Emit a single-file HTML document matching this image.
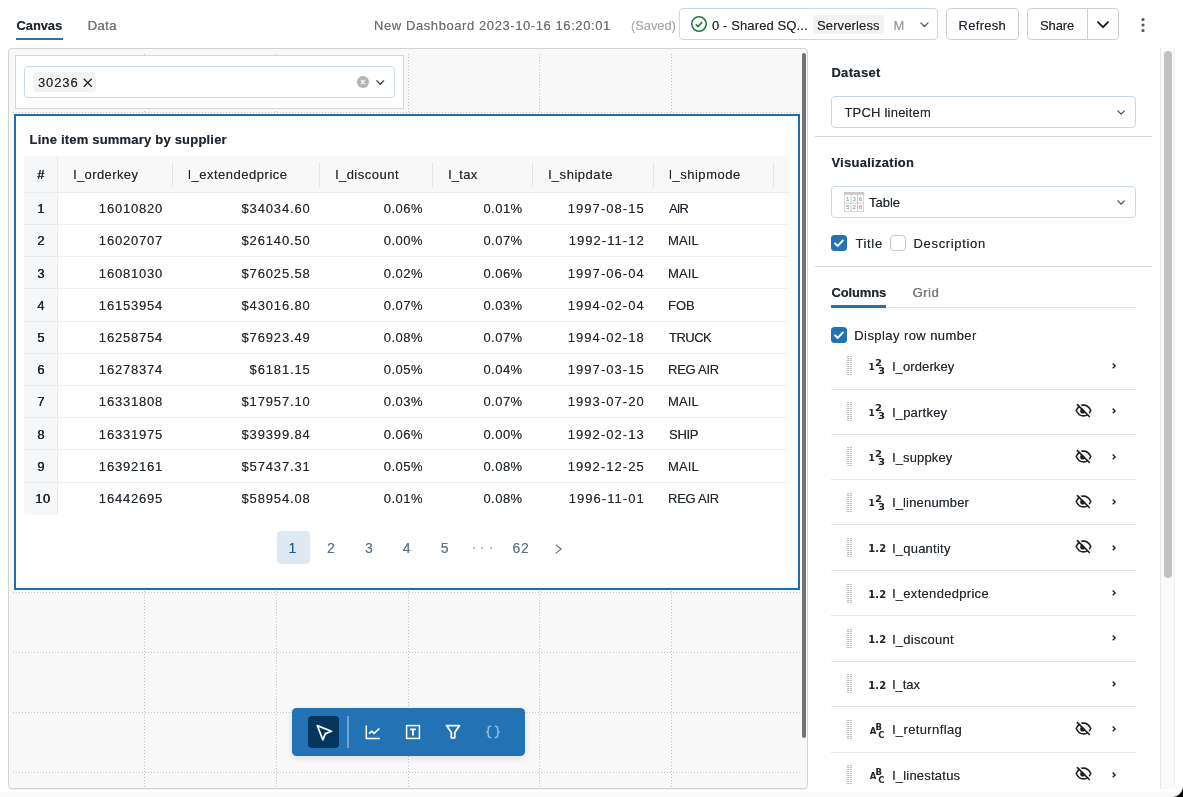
<!DOCTYPE html>
<html lang="en">
<head>
<meta charset="utf-8">
<title>New Dashboard 2023-10-16 16:20:01</title>
<style>
*{box-sizing:border-box;margin:0;padding:0}
html,body{width:1183px;height:797px;overflow:hidden;background:#fff}
body{position:relative;font-family:"Liberation Sans",Arial,sans-serif;font-size:13px;color:#1f272d;line-height:16px}
#w{position:absolute;left:0;top:0;width:1183px;height:797px;will-change:transform}
.a{position:absolute}
.t{position:absolute;white-space:nowrap;line-height:16px;font-size:13px}
svg{position:absolute;overflow:visible}
.btn{position:absolute;border:1px solid #cfcfcf;border-radius:4px;background:#fff}
.sel{position:absolute;border:1px solid #cad9e6;border-radius:4px;background:#fff}
.vl{position:absolute;width:1px;background-image:repeating-linear-gradient(to bottom,#c2c2c2 0 1px,transparent 1px 3px)}
.hl{position:absolute;height:1px;background-image:repeating-linear-gradient(to right,#c2c2c2 0 1px,transparent 1px 3px)}
.rl{position:absolute;height:1px;background:#f0f0f0;left:57px;width:733px}
.hs{position:absolute;width:1px;background:#e4e4e4;top:162px;height:25px}
.dv{position:absolute;height:1px;background:#e6e6e6;left:831px;width:305px}
.dh{position:absolute;width:5.8px;height:19.6px;left:846.7px;background-image:repeating-linear-gradient(to bottom,transparent 0 1.1px,#fff 1.1px 1.96px),repeating-linear-gradient(to right,#bcbcbc 0 0.85px,#fff 0.85px 1.45px)}
.ti{position:absolute;font-family:"DejaVu Sans","Liberation Sans",sans-serif;font-weight:700;font-size:9px;line-height:10px;color:#222;white-space:nowrap}
</style>
</head>
<body>
<div id="w">
<!-- top bar -->
<div class="a" style="left:16px;top:37.5px;width:46.5px;height:2.5px;background:#2272b4"></div>
<div class="sel" style="left:678.5px;top:8.3px;width:259.5px;height:31.5px"></div>
<svg style="left:691.4px;top:16.1px" width="16" height="16" viewBox="0 0 16 16"><circle cx="8" cy="8" r="7.250" fill="none" stroke="#1f7a3c" stroke-width="1.500"/><path d="M4.800 8.300l2.100 2.200 4.300-4.400" fill="none" stroke="#1f7a3c" stroke-width="1.700" stroke-linecap="butt" stroke-linejoin="miter"/></svg>
<div class="a" style="left:813px;top:14.5px;width:71px;height:19.5px;background:#f2f2f2;border-radius:4px"></div>
<svg style="left:919.5px;top:21.5px" width="9" height="6" viewBox="0 0 9 6"><path d="M0.8 0.9l3.6 3.6 3.6-3.6" fill="none" stroke="#555" stroke-width="1.3" stroke-linecap="round" stroke-linejoin="round"/></svg>
<div class="btn" style="left:946px;top:8.3px;width:72.5px;height:31.5px"></div>
<div class="btn" style="left:1027px;top:8.3px;width:91.5px;height:31.5px"></div>
<div class="a" style="left:1087px;top:9px;width:1px;height:30px;background:#cfcfcf"></div>
<svg style="left:1097px;top:21px" width="12" height="8" viewBox="0 0 12 8"><path d="M1 1.2l5 5 5-5" fill="none" stroke="#1a1a1a" stroke-width="1.9" stroke-linecap="round" stroke-linejoin="round"/></svg>
<svg style="left:1140px;top:16px" width="6" height="18" viewBox="0 0 6 18"><circle cx="3" cy="3.5" r="1.6" fill="#555"/><circle cx="3" cy="9" r="1.6" fill="#555"/><circle cx="3" cy="14.5" r="1.6" fill="#555"/></svg>
<!-- canvas -->
<div class="a" style="left:8px;top:48px;width:800px;height:740.6px;background:#f8f8f8;border:1px solid #d2d2d2;border-radius:4px;box-shadow:0 1px 1px rgba(0,0,0,.06)"></div>
<div class="vl" style="left:144px;top:54px;height:734px"></div>
<div class="vl" style="left:276px;top:54px;height:734px"></div>
<div class="vl" style="left:407.5px;top:54px;height:734px"></div>
<div class="vl" style="left:539px;top:54px;height:734px"></div>
<div class="vl" style="left:671px;top:54px;height:734px"></div>
<div class="hl" style="left:13px;top:112px;width:788px"></div>
<div class="hl" style="left:13px;top:592px;width:788px"></div>
<div class="hl" style="left:13px;top:652px;width:788px"></div>
<div class="hl" style="left:13px;top:712px;width:788px"></div>
<div class="hl" style="left:13px;top:772px;width:788px"></div>
<div class="a" style="left:801.8px;top:52.5px;width:4.2px;height:685px;background:#727272;border-radius:2px"></div>
<div class="a" style="left:15px;top:55px;width:389px;height:54px;background:#fff;border:1px solid #d6d6d6"></div>
<div class="sel" style="left:24px;top:66px;width:371px;height:32px"></div>
<div class="a" style="left:33px;top:72px;width:62.5px;height:20px;background:#f2f2f2;border-radius:4px"></div>
<svg style="left:83px;top:77.5px" width="9.5" height="9.5" viewBox="0 0 10 10"><path d="M0.8 0.8l8.4 8.4M9.2 0.8L0.8 9.2" fill="none" stroke="#222" stroke-width="1.35"/></svg>
<svg style="left:357px;top:76.2px" width="12" height="12" viewBox="0 0 12 12"><circle cx="6" cy="6" r="6" fill="#b3b3b3"/><path d="M4.300 4.300l3.400 3.400M7.700 4.300l-3.400 3.400" stroke="#fff" stroke-width="1.300" stroke-linecap="round"/></svg>
<svg style="left:376px;top:80px" width="8.5" height="5.5" viewBox="0 0 9 6"><path d="M0.8 0.9l3.7 3.7 3.7-3.7" fill="none" stroke="#444" stroke-width="1.4" stroke-linecap="round" stroke-linejoin="round"/></svg>
<div class="a" style="left:14px;top:114px;width:786px;height:476px;background:#fff;border:2px solid #1e6db2"></div>
<div class="a" style="left:24px;top:156px;width:766px;height:37px;background:#f8f8f8;border-radius:4px 4px 0 0;border-bottom:1px solid #ededed"></div>
<div class="a" style="left:24px;top:156px;width:33.5px;height:359px;background:#f6f7f8;border-right:1px solid #ebebeb;border-radius:4px 0 0 4px"></div>
<div class="a" style="left:24px;top:192px;width:33px;height:1px;background:#ebebeb"></div>
<div class="hs" style="left:171.8px"></div>
<div class="hs" style="left:319.0px"></div>
<div class="hs" style="left:432.2px"></div>
<div class="hs" style="left:531.9px"></div>
<div class="hs" style="left:653.0px"></div>
<div class="hs" style="left:772.9px"></div>
<div class="rl" style="top:224.00px"></div>
<div class="a" style="left:24.3px;width:33px;height:1px;background:#e8e9ea;top:224.00px"></div>
<div class="rl" style="top:256.20px"></div>
<div class="a" style="left:24.3px;width:33px;height:1px;background:#e8e9ea;top:256.20px"></div>
<div class="rl" style="top:288.40px"></div>
<div class="a" style="left:24.3px;width:33px;height:1px;background:#e8e9ea;top:288.40px"></div>
<div class="rl" style="top:320.60px"></div>
<div class="a" style="left:24.3px;width:33px;height:1px;background:#e8e9ea;top:320.60px"></div>
<div class="rl" style="top:352.80px"></div>
<div class="a" style="left:24.3px;width:33px;height:1px;background:#e8e9ea;top:352.80px"></div>
<div class="rl" style="top:385.00px"></div>
<div class="a" style="left:24.3px;width:33px;height:1px;background:#e8e9ea;top:385.00px"></div>
<div class="rl" style="top:417.20px"></div>
<div class="a" style="left:24.3px;width:33px;height:1px;background:#e8e9ea;top:417.20px"></div>
<div class="rl" style="top:449.40px"></div>
<div class="a" style="left:24.3px;width:33px;height:1px;background:#e8e9ea;top:449.40px"></div>
<div class="rl" style="top:481.60px"></div>
<div class="a" style="left:24.3px;width:33px;height:1px;background:#e8e9ea;top:481.60px"></div>
<div class="a" style="left:277px;top:531px;width:32.5px;height:32.5px;background:#dde8f2;border-radius:4px"></div>
<div class="a" style="left:473.2px;top:547px;width:2px;height:2px;border-radius:50%;background:#a3afba"></div>
<div class="a" style="left:481.4px;top:547px;width:2px;height:2px;border-radius:50%;background:#a3afba"></div>
<div class="a" style="left:489.7px;top:547px;width:2px;height:2px;border-radius:50%;background:#a3afba"></div>
<svg style="left:555.4px;top:543.6px" width="7" height="10" viewBox="0 0 7 10"><path d="M0.6 0.6l5.6 4.4-5.6 4.4" fill="none" stroke="#5f7281" stroke-width="1.15" stroke-linejoin="miter"/></svg>
<div class="a" style="left:291.5px;top:707.8px;width:233px;height:47.8px;background:#2272b4;border-radius:4.5px;box-shadow:0 2px 6px rgba(0,0,0,.12)"></div>
<div class="a" style="left:307.7px;top:715.8px;width:31.8px;height:31.8px;background:#04355d;border-radius:4px"></div>
<div class="a" style="left:347.4px;top:715.8px;width:1.5px;height:31.8px;background:#6ea3d0"></div>
<svg style="left:307.7px;top:715.8px" width="32" height="32" viewBox="0 0 32 32"><path d="M9.3 9.600l14.2 5.700-6.100 2.300-2.600 6.200z" fill="none" stroke="#fff" stroke-width="1.75" stroke-linejoin="round"/></svg>
<svg style="left:364.9px;top:723.5px" width="16" height="16" viewBox="0 0 16 16"><path d="M1.3 1.4v13.1h13.6" fill="none" stroke="#fff" stroke-width="1.5"/><path d="M4 9.600l2.800-2.400 2.300 2.200 5.300-4.900" fill="none" stroke="#fff" stroke-width="1.6" stroke-linejoin="round"/></svg>
<svg style="left:404.7px;top:723.7px" width="16" height="16" viewBox="0 0 16 16"><rect x="1.6" y="1.6" width="12.8" height="12.8" fill="none" stroke="#fff" stroke-width="1.5"/><path d="M5.100 5.300h5.800M8 5.300v6.300" fill="none" stroke="#fff" stroke-width="1.800"/></svg>
<svg style="left:444.8px;top:724px" width="16" height="16" viewBox="0 0 16 16"><path d="M1.500 1.600h13l-4.700 6.800v5.400H6.300V8.400z" fill="none" stroke="#fff" stroke-width="1.750" stroke-linejoin="round"/></svg>
<svg style="left:484.5px;top:724px" width="16" height="16" viewBox="0 0 16 16"><path d="M5.600 2.200c-1.700 0-2.300 0.700-2.300 2v1.900c0 1-0.500 1.600-1.500 1.800 1 0.200 1.500 0.800 1.500 1.800v1.900c0 1.300 0.600 2 2.300 2M10.400 2.200c1.700 0 2.300 0.700 2.300 2v1.900c0 1 0.500 1.600 1.500 1.800-1 0.200-1.500 0.800-1.500 1.800v1.900c0 1.300-0.600 2-2.300 2" fill="none" stroke="#8fbce3" stroke-width="1.550" stroke-linecap="round" stroke-linejoin="round"/></svg>
<!-- right panel -->
<div class="a" style="left:1160.3px;top:48px;width:14.3px;height:740.6px;background:#fafafa;border-left:1px solid #e8e8e8;border-right:1px solid #f0f0f0"></div>
<div class="a" style="left:1163.9px;top:51.3px;width:8px;height:527px;background:#c1c1c1;border-radius:4px"></div>
<div class="sel" style="left:831px;top:96.2px;width:305px;height:31.4px"></div>
<svg style="left:1116.5px;top:110px" width="8.4" height="5.4" viewBox="0 0 9 6"><path d="M0.8 0.9l3.6 3.6 3.6-3.6" fill="none" stroke="#444" stroke-width="1.3" stroke-linecap="round" stroke-linejoin="round"/></svg>
<div class="a" style="left:815px;top:136px;width:337px;height:1px;background:#d8d8d8"></div>
<div class="sel" style="left:831px;top:186.4px;width:305px;height:31.400px"></div>
<svg style="left:1116.5px;top:200px" width="8.4" height="5.4" viewBox="0 0 9 6"><path d="M0.8 0.9l3.6 3.6 3.6-3.6" fill="none" stroke="#444" stroke-width="1.3" stroke-linecap="round" stroke-linejoin="round"/></svg>
<svg style="left:844px;top:192.1px" width="20" height="19.7" viewBox="0 0 20 19.7"><rect x="0" y="0" width="20" height="19.7" fill="#c9c9c9"/><g fill="#fff"><rect x="0.7" y="2.800" width="5.900" height="7.900"/><rect x="7.500" y="2.800" width="5.500" height="7.900"/><rect x="13.900" y="2.800" width="5.400" height="7.900"/><rect x="0.7" y="11.500" width="5.900" height="7.500"/><rect x="7.500" y="11.500" width="5.500" height="7.500"/><rect x="13.900" y="11.500" width="5.400" height="7.500"/></g><g font-family="Liberation Sans,sans-serif" font-size="6.200" fill="#7d8894" text-anchor="middle"><text x="3.700" y="9.100">1</text><text x="10.250" y="9.100">3</text><text x="16.600" y="9.100">6</text><text x="3.700" y="16.700">5</text><text x="10.250" y="16.700">2</text><text x="16.600" y="16.700" fill="#f0664a">8</text></g></svg>
<svg style="left:831px;top:235.2px" width="16" height="16" viewBox="0 0 16 16"><rect width="16" height="16" rx="3.5" fill="#2272b4"/><path d="M4 8.300l2.700 2.700 5.200-5.600" fill="none" stroke="#fff" stroke-width="1.9" stroke-linecap="round" stroke-linejoin="round"/></svg>
<div class="a" style="left:890.3px;top:235.2px;width:16px;height:16px;border:1px solid #c9c9c9;border-radius:4px;background:#fff"></div>
<div class="a" style="left:815px;top:266px;width:337px;height:1px;background:#d8d8d8"></div>
<div class="a" style="left:831px;top:307px;width:305px;height:1px;background:#e4e4e4"></div>
<div class="a" style="left:831px;top:305px;width:55.3px;height:2.800px;background:#2272b4"></div>
<svg style="left:830.8px;top:326.7px" width="16" height="16" viewBox="0 0 16 16"><rect width="16" height="16" rx="3.5" fill="#2272b4"/><path d="M4 8.300l2.700 2.700 5.200-5.600" fill="none" stroke="#fff" stroke-width="1.9" stroke-linecap="round" stroke-linejoin="round"/></svg>
<div class="dh" style="top:356.40px"></div>
<div class="ti" style="left:868.6px;top:362.20px">1</div><div class="ti" style="left:874.5px;top:357.80px;transform:scaleX(1.12);transform-origin:0 0">2</div><div class="ti" style="left:878.2px;top:365.90px;transform:scaleX(1.12);transform-origin:0 0">3</div>
<svg style="left:1112.20px;top:362.90px" width="4" height="6" viewBox="0 0 4 6"><path d="M0.700 0.600l2.400 2.300-2.400 2.300" fill="none" stroke="#222" stroke-width="1.4" stroke-linecap="butt" stroke-linejoin="miter"/></svg>
<div class="dv" style="top:389px"></div>
<div class="dh" style="top:401.82px"></div>
<div class="ti" style="left:868.6px;top:407.62px">1</div><div class="ti" style="left:874.5px;top:403.22px;transform:scaleX(1.12);transform-origin:0 0">2</div><div class="ti" style="left:878.2px;top:411.32px;transform:scaleX(1.12);transform-origin:0 0">3</div>
<svg style="left:1074.60px;top:404.12px" width="17" height="14" viewBox="0 0 17 14"><path d="M1.200 6.500C3 2.700 5.600 1.100 8.500 1.100s5.500 1.600 7.300 5.400c-1.800 3.800-4.400 5.400-7.300 5.400S3 10.300 1.200 6.500z" fill="none" stroke="#1f1f1f" stroke-width="1.6" stroke-linejoin="round"/><circle cx="7.800" cy="6.900" r="2.600" fill="#1f1f1f"/><path d="M3.600 -0.300l11.800 11.800" stroke="#fff" stroke-width="1.500"/><path d="M2.400 0.600l11.900 11.900" stroke="#1f1f1f" stroke-width="1.600" stroke-linecap="round"/></svg>
<svg style="left:1112.20px;top:408.32px" width="4" height="6" viewBox="0 0 4 6"><path d="M0.700 0.600l2.400 2.300-2.400 2.300" fill="none" stroke="#222" stroke-width="1.4" stroke-linecap="butt" stroke-linejoin="miter"/></svg>
<div class="dv" style="top:434px"></div>
<div class="dh" style="top:447.24px"></div>
<div class="ti" style="left:868.6px;top:453.04px">1</div><div class="ti" style="left:874.5px;top:448.64px;transform:scaleX(1.12);transform-origin:0 0">2</div><div class="ti" style="left:878.2px;top:456.74px;transform:scaleX(1.12);transform-origin:0 0">3</div>
<svg style="left:1074.60px;top:449.54px" width="17" height="14" viewBox="0 0 17 14"><path d="M1.200 6.500C3 2.700 5.600 1.100 8.500 1.100s5.500 1.600 7.300 5.400c-1.800 3.800-4.400 5.400-7.300 5.400S3 10.300 1.200 6.500z" fill="none" stroke="#1f1f1f" stroke-width="1.6" stroke-linejoin="round"/><circle cx="7.800" cy="6.900" r="2.600" fill="#1f1f1f"/><path d="M3.600 -0.300l11.800 11.800" stroke="#fff" stroke-width="1.500"/><path d="M2.400 0.600l11.900 11.900" stroke="#1f1f1f" stroke-width="1.600" stroke-linecap="round"/></svg>
<svg style="left:1112.20px;top:453.74px" width="4" height="6" viewBox="0 0 4 6"><path d="M0.700 0.600l2.400 2.300-2.400 2.300" fill="none" stroke="#222" stroke-width="1.4" stroke-linecap="butt" stroke-linejoin="miter"/></svg>
<div class="dv" style="top:479px"></div>
<div class="dh" style="top:492.66px"></div>
<div class="ti" style="left:868.6px;top:498.46px">1</div><div class="ti" style="left:874.5px;top:494.06px;transform:scaleX(1.12);transform-origin:0 0">2</div><div class="ti" style="left:878.2px;top:502.16px;transform:scaleX(1.12);transform-origin:0 0">3</div>
<svg style="left:1074.60px;top:494.96px" width="17" height="14" viewBox="0 0 17 14"><path d="M1.200 6.500C3 2.700 5.600 1.100 8.500 1.100s5.500 1.600 7.300 5.400c-1.800 3.800-4.400 5.400-7.300 5.400S3 10.300 1.200 6.500z" fill="none" stroke="#1f1f1f" stroke-width="1.6" stroke-linejoin="round"/><circle cx="7.800" cy="6.900" r="2.600" fill="#1f1f1f"/><path d="M3.600 -0.300l11.800 11.800" stroke="#fff" stroke-width="1.500"/><path d="M2.400 0.600l11.900 11.900" stroke="#1f1f1f" stroke-width="1.600" stroke-linecap="round"/></svg>
<svg style="left:1112.20px;top:499.16px" width="4" height="6" viewBox="0 0 4 6"><path d="M0.700 0.600l2.400 2.300-2.400 2.300" fill="none" stroke="#222" stroke-width="1.4" stroke-linecap="butt" stroke-linejoin="miter"/></svg>
<div class="dv" style="top:524px"></div>
<div class="dh" style="top:538.08px"></div>
<div class="ti" style="left:868.3px;top:544.48px;font-size:10px;letter-spacing:0.1px">1.2</div>
<svg style="left:1074.60px;top:540.38px" width="17" height="14" viewBox="0 0 17 14"><path d="M1.200 6.500C3 2.700 5.600 1.100 8.500 1.100s5.500 1.600 7.300 5.400c-1.800 3.800-4.400 5.400-7.300 5.400S3 10.300 1.200 6.500z" fill="none" stroke="#1f1f1f" stroke-width="1.6" stroke-linejoin="round"/><circle cx="7.800" cy="6.900" r="2.600" fill="#1f1f1f"/><path d="M3.600 -0.300l11.800 11.800" stroke="#fff" stroke-width="1.500"/><path d="M2.400 0.600l11.900 11.900" stroke="#1f1f1f" stroke-width="1.600" stroke-linecap="round"/></svg>
<svg style="left:1112.20px;top:544.58px" width="4" height="6" viewBox="0 0 4 6"><path d="M0.700 0.600l2.400 2.300-2.400 2.300" fill="none" stroke="#222" stroke-width="1.4" stroke-linecap="butt" stroke-linejoin="miter"/></svg>
<div class="dv" style="top:570px"></div>
<div class="dh" style="top:583.50px"></div>
<div class="ti" style="left:868.3px;top:589.90px;font-size:10px;letter-spacing:0.1px">1.2</div>
<svg style="left:1112.20px;top:590.00px" width="4" height="6" viewBox="0 0 4 6"><path d="M0.700 0.600l2.400 2.300-2.400 2.300" fill="none" stroke="#222" stroke-width="1.4" stroke-linecap="butt" stroke-linejoin="miter"/></svg>
<div class="dv" style="top:615px"></div>
<div class="dh" style="top:628.92px"></div>
<div class="ti" style="left:868.3px;top:635.32px;font-size:10px;letter-spacing:0.1px">1.2</div>
<svg style="left:1112.20px;top:635.42px" width="4" height="6" viewBox="0 0 4 6"><path d="M0.700 0.600l2.400 2.300-2.400 2.300" fill="none" stroke="#222" stroke-width="1.4" stroke-linecap="butt" stroke-linejoin="miter"/></svg>
<div class="dv" style="top:661px"></div>
<div class="dh" style="top:674.34px"></div>
<div class="ti" style="left:868.3px;top:680.74px;font-size:10px;letter-spacing:0.1px">1.2</div>
<svg style="left:1112.20px;top:680.84px" width="4" height="6" viewBox="0 0 4 6"><path d="M0.700 0.600l2.400 2.300-2.400 2.300" fill="none" stroke="#222" stroke-width="1.4" stroke-linecap="butt" stroke-linejoin="miter"/></svg>
<div class="dv" style="top:706px"></div>
<div class="dh" style="top:719.76px"></div>
<div class="ti" style="left:869.8px;top:725.76px;font-size:8.5px">A</div><div class="ti" style="left:875.6px;top:721.76px;font-size:8.5px">B</div><div class="ti" style="left:878.3px;top:729.66px;font-size:8.5px">C</div>
<svg style="left:1074.60px;top:722.06px" width="17" height="14" viewBox="0 0 17 14"><path d="M1.200 6.500C3 2.700 5.600 1.100 8.500 1.100s5.500 1.600 7.300 5.400c-1.800 3.800-4.400 5.400-7.300 5.400S3 10.300 1.200 6.500z" fill="none" stroke="#1f1f1f" stroke-width="1.6" stroke-linejoin="round"/><circle cx="7.800" cy="6.900" r="2.600" fill="#1f1f1f"/><path d="M3.600 -0.300l11.800 11.800" stroke="#fff" stroke-width="1.500"/><path d="M2.400 0.600l11.900 11.900" stroke="#1f1f1f" stroke-width="1.600" stroke-linecap="round"/></svg>
<svg style="left:1112.20px;top:726.26px" width="4" height="6" viewBox="0 0 4 6"><path d="M0.700 0.600l2.400 2.300-2.400 2.300" fill="none" stroke="#222" stroke-width="1.4" stroke-linecap="butt" stroke-linejoin="miter"/></svg>
<div class="dv" style="top:752px"></div>
<div class="dh" style="top:765.18px"></div>
<div class="ti" style="left:869.8px;top:771.18px;font-size:8.5px">A</div><div class="ti" style="left:875.6px;top:767.18px;font-size:8.5px">B</div><div class="ti" style="left:878.3px;top:775.08px;font-size:8.5px">C</div>
<svg style="left:1074.60px;top:767.48px" width="17" height="14" viewBox="0 0 17 14"><path d="M1.200 6.500C3 2.700 5.600 1.100 8.500 1.100s5.500 1.600 7.300 5.400c-1.800 3.800-4.400 5.400-7.300 5.400S3 10.300 1.200 6.500z" fill="none" stroke="#1f1f1f" stroke-width="1.6" stroke-linejoin="round"/><circle cx="7.800" cy="6.900" r="2.600" fill="#1f1f1f"/><path d="M3.600 -0.300l11.800 11.800" stroke="#fff" stroke-width="1.500"/><path d="M2.400 0.600l11.900 11.900" stroke="#1f1f1f" stroke-width="1.600" stroke-linecap="round"/></svg>
<svg style="left:1112.20px;top:771.68px" width="4" height="6" viewBox="0 0 4 6"><path d="M0.700 0.600l2.400 2.300-2.400 2.300" fill="none" stroke="#222" stroke-width="1.4" stroke-linecap="butt" stroke-linejoin="miter"/></svg>
<div class="a" style="left:0;top:790px;width:1183px;height:7px;background:linear-gradient(to bottom,#fff,#f8f8f8)"></div>
<svg style="left:1172px;top:786px" width="11" height="11" viewBox="0 0 11 11"><path d="M11 0v11H0A11 11 0 0 0 11 0z" fill="#000"/></svg>
<!-- text -->
<div class="t" style="left:16.50px;top:18px;font-weight:700;letter-spacing:-0.104px;text-shadow:0 0 0.5px rgba(31,39,45,.6)">Canvas</div>
<div class="t" style="left:87.50px;top:18px;color:#7d7d7d;letter-spacing:0.423px;text-shadow:0.4px 0 0 #7d7d7d,0 0 0.5px rgba(125,125,125,.6)">Data</div>
<div class="t" style="left:374.00px;top:18px;color:#6b6b6b;letter-spacing:0.584px;text-shadow:0 0 0.5px rgba(107,107,107,.6)">New Dashboard 2023-10-16 16:20:01</div>
<div class="t" style="left:631.00px;top:18px;color:#a9a9a9;letter-spacing:-0.098px;text-shadow:0 0 0.5px rgba(169,169,169,.6)">(Saved)</div>
<div class="t" style="left:712.00px;top:18px;letter-spacing:0.112px;text-shadow:0 0 0.5px rgba(31,39,45,.6)">0 - Shared SQ...</div>
<div class="t" style="left:817.00px;top:18px;letter-spacing:0.121px;text-shadow:0 0 0.5px rgba(31,39,45,.6)">Serverless</div>
<div class="t" style="left:893.40px;top:18px;color:#9a9a9a;text-shadow:0 0 0.5px rgba(154,154,154,.6)">M</div>
<div class="t" style="left:958.60px;top:18px;letter-spacing:0.285px;text-shadow:0 0 0.5px rgba(31,39,45,.6)">Refresh</div>
<div class="t" style="left:1040.00px;top:18px;letter-spacing:-0.115px;text-shadow:0 0 0.5px rgba(31,39,45,.6)">Share</div>
<div class="t" style="left:38.00px;top:75px;letter-spacing:0.870px;text-shadow:0 0 0.5px rgba(31,39,45,.6)">30236</div>
<div class="t" style="left:29.60px;top:132px;font-weight:700;letter-spacing:0.200px;text-shadow:0 0 0.5px rgba(31,39,45,.6)">Line item summary by supplier</div>
<div class="t" style="left:37.00px;top:167px;text-shadow:0.4px 0 0 #1f272d,0 0 0.5px rgba(31,39,45,.6)">#</div>
<div class="t" style="left:73.60px;top:167px;letter-spacing:0.412px;text-shadow:0 0 0.5px rgba(31,39,45,.6)">l_orderkey</div>
<div class="t" style="left:188.10px;top:167px;letter-spacing:0.510px;text-shadow:0 0 0.5px rgba(31,39,45,.6)">l_extendedprice</div>
<div class="t" style="left:335.50px;top:167px;letter-spacing:0.508px;text-shadow:0 0 0.5px rgba(31,39,45,.6)">l_discount</div>
<div class="t" style="left:448.60px;top:167px;letter-spacing:0.285px;text-shadow:0 0 0.5px rgba(31,39,45,.6)">l_tax</div>
<div class="t" style="left:548.40px;top:167px;letter-spacing:0.540px;text-shadow:0 0 0.5px rgba(31,39,45,.6)">l_shipdate</div>
<div class="t" style="left:669.00px;top:167px;letter-spacing:0.527px;text-shadow:0 0 0.5px rgba(31,39,45,.6)">l_shipmode</div>
<div class="t" style="left:37.20px;top:201px;letter-spacing:0.500px;text-shadow:0.4px 0 0 #1f272d,0 0 0.5px rgba(31,39,45,.6)">1</div>
<div class="t" style="left:98.86px;top:201px;letter-spacing:0.790px;text-shadow:0 0 0.5px rgba(31,39,45,.6)">16010820</div>
<div class="t" style="left:241.50px;top:201px;letter-spacing:0.860px;text-shadow:0 0 0.5px rgba(31,39,45,.6)">$34034.60</div>
<div class="t" style="left:383.82px;top:201px;letter-spacing:0.470px;text-shadow:0 0 0.5px rgba(31,39,45,.6)">0.06%</div>
<div class="t" style="left:483.42px;top:201px;letter-spacing:0.470px;text-shadow:0 0 0.5px rgba(31,39,45,.6)">0.01%</div>
<div class="t" style="left:567.78px;top:201px;letter-spacing:1.050px;text-shadow:0 0 0.5px rgba(31,39,45,.6)">1997-08-15</div>
<div class="t" style="left:669.10px;top:201px;letter-spacing:-0.891px;text-shadow:0 0 0.5px rgba(31,39,45,.6)">AIR</div>
<div class="t" style="left:37.20px;top:233px;letter-spacing:0.500px;text-shadow:0.4px 0 0 #1f272d,0 0 0.5px rgba(31,39,45,.6)">2</div>
<div class="t" style="left:98.86px;top:233px;letter-spacing:0.790px;text-shadow:0 0 0.5px rgba(31,39,45,.6)">16020707</div>
<div class="t" style="left:241.50px;top:233px;letter-spacing:0.860px;text-shadow:0 0 0.5px rgba(31,39,45,.6)">$26140.50</div>
<div class="t" style="left:383.82px;top:233px;letter-spacing:0.470px;text-shadow:0 0 0.5px rgba(31,39,45,.6)">0.00%</div>
<div class="t" style="left:483.42px;top:233px;letter-spacing:0.470px;text-shadow:0 0 0.5px rgba(31,39,45,.6)">0.07%</div>
<div class="t" style="left:568.75px;top:233px;letter-spacing:1.050px;text-shadow:0 0 0.5px rgba(31,39,45,.6)">1992-11-12</div>
<div class="t" style="left:668.10px;top:233px;letter-spacing:0.129px;text-shadow:0 0 0.5px rgba(31,39,45,.6)">MAIL</div>
<div class="t" style="left:37.20px;top:266px;letter-spacing:0.500px;text-shadow:0.4px 0 0 #1f272d,0 0 0.5px rgba(31,39,45,.6)">3</div>
<div class="t" style="left:98.86px;top:266px;letter-spacing:0.790px;text-shadow:0 0 0.5px rgba(31,39,45,.6)">16081030</div>
<div class="t" style="left:241.50px;top:266px;letter-spacing:0.860px;text-shadow:0 0 0.5px rgba(31,39,45,.6)">$76025.58</div>
<div class="t" style="left:383.82px;top:266px;letter-spacing:0.470px;text-shadow:0 0 0.5px rgba(31,39,45,.6)">0.02%</div>
<div class="t" style="left:483.42px;top:266px;letter-spacing:0.470px;text-shadow:0 0 0.5px rgba(31,39,45,.6)">0.06%</div>
<div class="t" style="left:567.78px;top:266px;letter-spacing:1.050px;text-shadow:0 0 0.5px rgba(31,39,45,.6)">1997-06-04</div>
<div class="t" style="left:668.10px;top:266px;letter-spacing:0.129px;text-shadow:0 0 0.5px rgba(31,39,45,.6)">MAIL</div>
<div class="t" style="left:37.20px;top:298px;letter-spacing:0.500px;text-shadow:0.4px 0 0 #1f272d,0 0 0.5px rgba(31,39,45,.6)">4</div>
<div class="t" style="left:98.86px;top:298px;letter-spacing:0.790px;text-shadow:0 0 0.5px rgba(31,39,45,.6)">16153954</div>
<div class="t" style="left:241.50px;top:298px;letter-spacing:0.860px;text-shadow:0 0 0.5px rgba(31,39,45,.6)">$43016.80</div>
<div class="t" style="left:383.82px;top:298px;letter-spacing:0.470px;text-shadow:0 0 0.5px rgba(31,39,45,.6)">0.07%</div>
<div class="t" style="left:483.42px;top:298px;letter-spacing:0.470px;text-shadow:0 0 0.5px rgba(31,39,45,.6)">0.03%</div>
<div class="t" style="left:567.78px;top:298px;letter-spacing:1.050px;text-shadow:0 0 0.5px rgba(31,39,45,.6)">1994-02-04</div>
<div class="t" style="left:668.10px;top:298px;letter-spacing:-0.076px;text-shadow:0 0 0.5px rgba(31,39,45,.6)">FOB</div>
<div class="t" style="left:37.20px;top:330px;letter-spacing:0.500px;text-shadow:0.4px 0 0 #1f272d,0 0 0.5px rgba(31,39,45,.6)">5</div>
<div class="t" style="left:98.86px;top:330px;letter-spacing:0.790px;text-shadow:0 0 0.5px rgba(31,39,45,.6)">16258754</div>
<div class="t" style="left:241.50px;top:330px;letter-spacing:0.860px;text-shadow:0 0 0.5px rgba(31,39,45,.6)">$76923.49</div>
<div class="t" style="left:383.82px;top:330px;letter-spacing:0.470px;text-shadow:0 0 0.5px rgba(31,39,45,.6)">0.08%</div>
<div class="t" style="left:483.42px;top:330px;letter-spacing:0.470px;text-shadow:0 0 0.5px rgba(31,39,45,.6)">0.07%</div>
<div class="t" style="left:567.78px;top:330px;letter-spacing:1.050px;text-shadow:0 0 0.5px rgba(31,39,45,.6)">1994-02-18</div>
<div class="t" style="left:669.10px;top:330px;letter-spacing:-0.526px;text-shadow:0 0 0.5px rgba(31,39,45,.6)">TRUCK</div>
<div class="t" style="left:37.20px;top:362px;letter-spacing:0.500px;text-shadow:0.4px 0 0 #1f272d,0 0 0.5px rgba(31,39,45,.6)">6</div>
<div class="t" style="left:98.86px;top:362px;letter-spacing:0.790px;text-shadow:0 0 0.5px rgba(31,39,45,.6)">16278374</div>
<div class="t" style="left:249.59px;top:362px;letter-spacing:0.860px;text-shadow:0 0 0.5px rgba(31,39,45,.6)">$6181.15</div>
<div class="t" style="left:383.82px;top:362px;letter-spacing:0.470px;text-shadow:0 0 0.5px rgba(31,39,45,.6)">0.05%</div>
<div class="t" style="left:483.42px;top:362px;letter-spacing:0.470px;text-shadow:0 0 0.5px rgba(31,39,45,.6)">0.04%</div>
<div class="t" style="left:567.78px;top:362px;letter-spacing:1.050px;text-shadow:0 0 0.5px rgba(31,39,45,.6)">1997-03-15</div>
<div class="t" style="left:668.10px;top:362px;letter-spacing:-0.280px;text-shadow:0 0 0.5px rgba(31,39,45,.6)">REG AIR</div>
<div class="t" style="left:37.20px;top:394px;letter-spacing:0.500px;text-shadow:0.4px 0 0 #1f272d,0 0 0.5px rgba(31,39,45,.6)">7</div>
<div class="t" style="left:98.86px;top:394px;letter-spacing:0.790px;text-shadow:0 0 0.5px rgba(31,39,45,.6)">16331808</div>
<div class="t" style="left:241.50px;top:394px;letter-spacing:0.860px;text-shadow:0 0 0.5px rgba(31,39,45,.6)">$17957.10</div>
<div class="t" style="left:383.82px;top:394px;letter-spacing:0.470px;text-shadow:0 0 0.5px rgba(31,39,45,.6)">0.03%</div>
<div class="t" style="left:483.42px;top:394px;letter-spacing:0.470px;text-shadow:0 0 0.5px rgba(31,39,45,.6)">0.07%</div>
<div class="t" style="left:567.78px;top:394px;letter-spacing:1.050px;text-shadow:0 0 0.5px rgba(31,39,45,.6)">1993-07-20</div>
<div class="t" style="left:668.10px;top:394px;letter-spacing:0.129px;text-shadow:0 0 0.5px rgba(31,39,45,.6)">MAIL</div>
<div class="t" style="left:37.20px;top:427px;letter-spacing:0.500px;text-shadow:0.4px 0 0 #1f272d,0 0 0.5px rgba(31,39,45,.6)">8</div>
<div class="t" style="left:98.86px;top:427px;letter-spacing:0.790px;text-shadow:0 0 0.5px rgba(31,39,45,.6)">16331975</div>
<div class="t" style="left:241.50px;top:427px;letter-spacing:0.860px;text-shadow:0 0 0.5px rgba(31,39,45,.6)">$39399.84</div>
<div class="t" style="left:383.82px;top:427px;letter-spacing:0.470px;text-shadow:0 0 0.5px rgba(31,39,45,.6)">0.06%</div>
<div class="t" style="left:483.42px;top:427px;letter-spacing:0.470px;text-shadow:0 0 0.5px rgba(31,39,45,.6)">0.00%</div>
<div class="t" style="left:567.78px;top:427px;letter-spacing:1.050px;text-shadow:0 0 0.5px rgba(31,39,45,.6)">1992-02-13</div>
<div class="t" style="left:669.10px;top:427px;letter-spacing:-0.324px;text-shadow:0 0 0.5px rgba(31,39,45,.6)">SHIP</div>
<div class="t" style="left:37.20px;top:459px;letter-spacing:0.500px;text-shadow:0.4px 0 0 #1f272d,0 0 0.5px rgba(31,39,45,.6)">9</div>
<div class="t" style="left:98.86px;top:459px;letter-spacing:0.790px;text-shadow:0 0 0.5px rgba(31,39,45,.6)">16392161</div>
<div class="t" style="left:241.50px;top:459px;letter-spacing:0.860px;text-shadow:0 0 0.5px rgba(31,39,45,.6)">$57437.31</div>
<div class="t" style="left:383.82px;top:459px;letter-spacing:0.470px;text-shadow:0 0 0.5px rgba(31,39,45,.6)">0.05%</div>
<div class="t" style="left:483.42px;top:459px;letter-spacing:0.470px;text-shadow:0 0 0.5px rgba(31,39,45,.6)">0.08%</div>
<div class="t" style="left:567.78px;top:459px;letter-spacing:1.050px;text-shadow:0 0 0.5px rgba(31,39,45,.6)">1992-12-25</div>
<div class="t" style="left:668.10px;top:459px;letter-spacing:0.129px;text-shadow:0 0 0.5px rgba(31,39,45,.6)">MAIL</div>
<div class="t" style="left:35.14px;top:491px;letter-spacing:0.500px;text-shadow:0.4px 0 0 #1f272d,0 0 0.5px rgba(31,39,45,.6)">10</div>
<div class="t" style="left:98.86px;top:491px;letter-spacing:0.790px;text-shadow:0 0 0.5px rgba(31,39,45,.6)">16442695</div>
<div class="t" style="left:241.50px;top:491px;letter-spacing:0.860px;text-shadow:0 0 0.5px rgba(31,39,45,.6)">$58954.08</div>
<div class="t" style="left:383.82px;top:491px;letter-spacing:0.470px;text-shadow:0 0 0.5px rgba(31,39,45,.6)">0.01%</div>
<div class="t" style="left:483.42px;top:491px;letter-spacing:0.470px;text-shadow:0 0 0.5px rgba(31,39,45,.6)">0.08%</div>
<div class="t" style="left:568.75px;top:491px;letter-spacing:1.050px;text-shadow:0 0 0.5px rgba(31,39,45,.6)">1996-11-01</div>
<div class="t" style="left:668.10px;top:491px;letter-spacing:-0.280px;text-shadow:0 0 0.5px rgba(31,39,45,.6)">REG AIR</div>
<div class="t" style="left:288.40px;top:540px;font-size:14px;color:#1b5a8c;text-shadow:0 0 0.5px rgba(27,90,140,.6)">1</div>
<div class="t" style="left:326.90px;top:540px;font-size:14px;color:#5f7281;text-shadow:0 0 0.5px rgba(95,114,129,.6)">2</div>
<div class="t" style="left:364.90px;top:540px;font-size:14px;color:#5f7281;text-shadow:0 0 0.5px rgba(95,114,129,.6)">3</div>
<div class="t" style="left:402.80px;top:540px;font-size:14px;color:#5f7281;text-shadow:0 0 0.5px rgba(95,114,129,.6)">4</div>
<div class="t" style="left:440.70px;top:540px;font-size:14px;color:#5f7281;text-shadow:0 0 0.5px rgba(95,114,129,.6)">5</div>
<div class="t" style="left:512.40px;top:540px;font-size:14px;color:#5f7281;letter-spacing:0.914px;text-shadow:0 0 0.5px rgba(95,114,129,.6)">62</div>
<div class="t" style="left:831.40px;top:65px;font-weight:700;letter-spacing:0.327px;text-shadow:0 0 0.5px rgba(31,39,45,.6)">Dataset</div>
<div class="t" style="left:844.40px;top:105px;letter-spacing:0.219px;text-shadow:0 0 0.5px rgba(31,39,45,.6)">TPCH lineitem</div>
<div class="t" style="left:831.40px;top:155px;font-weight:700;letter-spacing:0.276px;text-shadow:0 0 0.5px rgba(31,39,45,.6)">Visualization</div>
<div class="t" style="left:868.90px;top:195px;letter-spacing:0.013px;text-shadow:0 0 0.5px rgba(31,39,45,.6)">Table</div>
<div class="t" style="left:855.50px;top:236px;letter-spacing:0.638px;text-shadow:0 0 0.5px rgba(31,39,45,.6)">Title</div>
<div class="t" style="left:913.50px;top:236px;letter-spacing:0.670px;text-shadow:0 0 0.5px rgba(31,39,45,.6)">Description</div>
<div class="t" style="left:831.40px;top:285px;font-weight:700;letter-spacing:-0.130px;text-shadow:0 0 0.5px rgba(31,39,45,.6)">Columns</div>
<div class="t" style="left:912.40px;top:285px;color:#7d7d7d;letter-spacing:0.557px;text-shadow:0.4px 0 0 #7d7d7d,0 0 0.5px rgba(125,125,125,.6)">Grid</div>
<div class="t" style="left:854.30px;top:328px;letter-spacing:0.421px;text-shadow:0 0 0.5px rgba(31,39,45,.6)">Display row number</div>
<div class="t" style="left:892.60px;top:359px;letter-spacing:0.112px;text-shadow:0 0 0.5px rgba(31,39,45,.6)">l_orderkey</div>
<div class="t" style="left:892.60px;top:405px;letter-spacing:0.219px;text-shadow:0 0 0.5px rgba(31,39,45,.6)">l_partkey</div>
<div class="t" style="left:892.60px;top:450px;letter-spacing:0.145px;text-shadow:0 0 0.5px rgba(31,39,45,.6)">l_suppkey</div>
<div class="t" style="left:892.60px;top:495px;letter-spacing:0.172px;text-shadow:0 0 0.5px rgba(31,39,45,.6)">l_linenumber</div>
<div class="t" style="left:892.60px;top:541px;letter-spacing:0.239px;text-shadow:0 0 0.5px rgba(31,39,45,.6)">l_quantity</div>
<div class="t" style="left:892.60px;top:586px;letter-spacing:0.303px;text-shadow:0 0 0.5px rgba(31,39,45,.6)">l_extendedprice</div>
<div class="t" style="left:892.60px;top:632px;letter-spacing:0.275px;text-shadow:0 0 0.5px rgba(31,39,45,.6)">l_discount</div>
<div class="t" style="left:892.60px;top:677px;letter-spacing:-0.040px;text-shadow:0 0 0.5px rgba(31,39,45,.6)">l_tax</div>
<div class="t" style="left:892.60px;top:722px;letter-spacing:0.372px;text-shadow:0 0 0.5px rgba(31,39,45,.6)">l_returnflag</div>
<div class="t" style="left:892.60px;top:768px;letter-spacing:0.224px;text-shadow:0 0 0.5px rgba(31,39,45,.6)">l_linestatus</div>
</div>
</body>
</html>
